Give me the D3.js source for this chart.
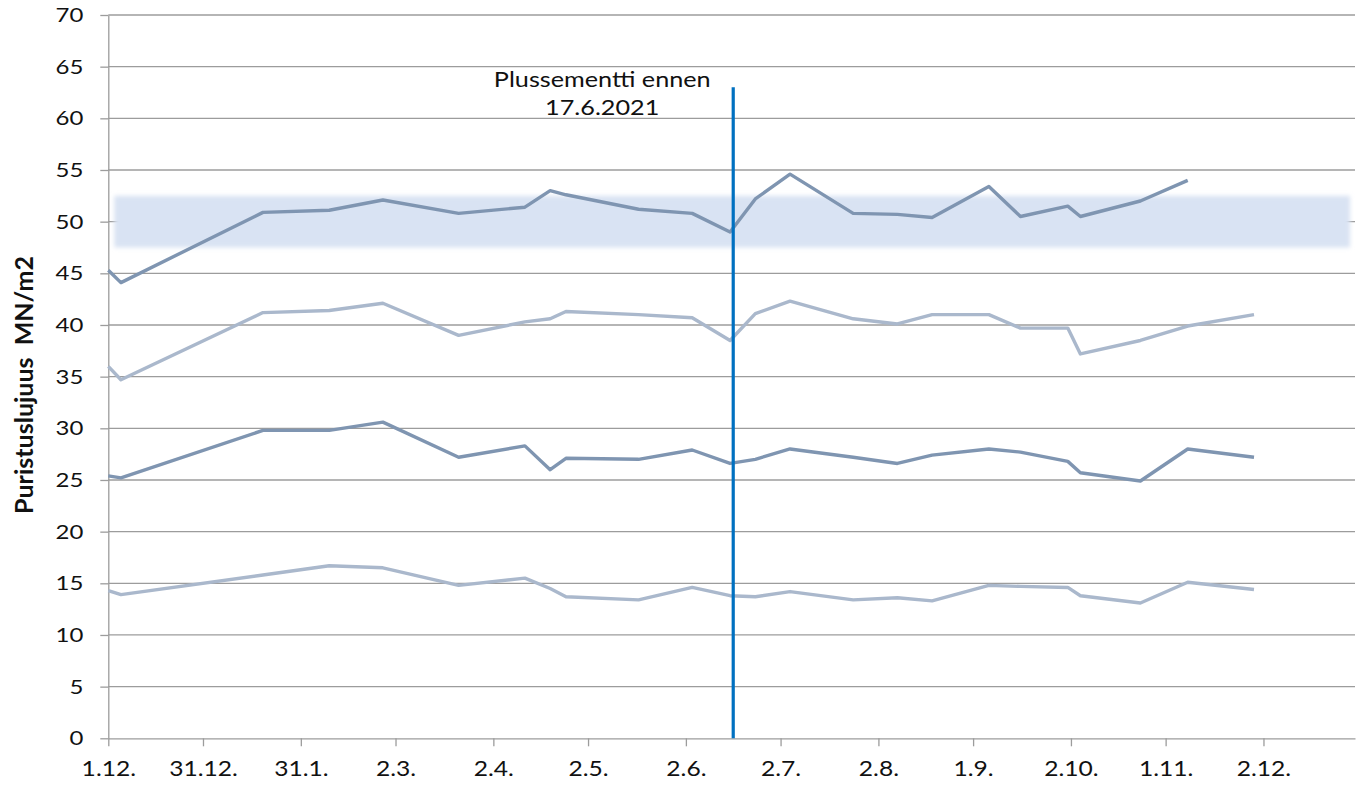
<!DOCTYPE html>
<html>
<head>
<meta charset="utf-8">
<script src="https://cdn.jsdelivr.net/npm/d3@7/dist/d3.min.js"></script>
<style>
  body { margin: 0; background: #fff; }
  svg text { font-family: Lato, "Open Sans", sans-serif; fill: #111; }
</style>
</head>
<body>
<div id="chart"></div>
<script>
// sample dates (one row per test batch)
var sampleDates = ["2020-12-01", "2020-12-05", "2021-01-19", "2021-02-09", "2021-02-26", "2021-03-22",
  "2021-04-12", "2021-04-20", "2021-04-25", "2021-05-18", "2021-06-04", "2021-06-16", "2021-06-24",
  "2021-07-05", "2021-07-25", "2021-08-08", "2021-08-19", "2021-09-06", "2021-09-16", "2021-10-01",
  "2021-10-05", "2021-10-24", "2021-11-08", "2021-11-29"];

var strengthA = [45.3, 44.1, 50.9, 51.1, 52.1, 50.8, 51.4, 53.0, 52.6, 51.2, 50.8, 49.0, 52.2,
  54.6, 50.8, 50.7, 50.4, 53.4, 50.5, 51.5, 50.5, 52.0, 54.0, null];
var strengthB = [36.0, 34.7, 41.2, 41.4, 42.1, 39.0, 40.3, 40.6, 41.3, 41.0, 40.7, 38.5, 41.1,
  42.3, 40.6, 40.1, 41.0, 41.0, 39.7, 39.7, 37.2, 38.5, 39.9, 41.0];
var strengthC = [25.4, 25.2, 29.8, 29.8, 30.6, 27.2, 28.3, 26.0, 27.1, 27.0, 27.9, 26.6, 27.0,
  28.0, 27.2, 26.6, 27.4, 28.0, 27.7, 26.8, 25.7, 24.9, 28.0, 27.2];
var strengthD = [14.3, 13.9, 15.8, 16.7, 16.5, 14.8, 15.5, 14.5, 13.7, 13.4, 14.6, 13.8, 13.7,
  14.2, 13.4, 13.6, 13.3, 14.8, 14.7, 14.6, 13.8, 13.1, 15.1, 14.4];

var xTickDates = ["2020-12-01", "2020-12-31", "2021-01-31", "2021-03-02", "2021-04-02", "2021-05-02",
  "2021-06-02", "2021-07-02", "2021-08-02", "2021-09-01", "2021-10-02", "2021-11-01", "2021-12-02"];
var yTickValues = [0, 5, 10, 15, 20, 25, 30, 35, 40, 45, 50, 55, 60, 65, 70];
var xDomain = ["2020-12-01", "2021-12-31"];

var targetBand = [47.5, 52.5];
var changeDate = "2021-06-17";
var changeTop = 63;
var changeLabel = ["Plussementti ennen", "17.6.2021"];
var yTitle = "Puristuslujuus  MN/m2";

(function() {
  var W = 1357, H = 787;
  var left = 108.3, right = 1355, top = 15, bottom = 738.3;
  var dark = "#7f95b1", light = "#aab8cc", grid = "#9c9c9c";
  var sx = 1.2; // the original picture is a little wider than its fonts

  var parse = d3.utcParse("%Y-%m-%d");
  var fmt = d3.utcFormat("%-d.%-m.");

  var x = d3.scaleUtc().domain(xDomain.map(parse)).range([left, right]);
  var y = d3.scaleLinear().domain([0, 70]).range([bottom, top]);

  var svg = d3.select("#chart").append("svg")
    .attr("width", W).attr("height", H);

  var defs = svg.append("defs");
  defs.append("filter").attr("id", "soft")
    .attr("x", "-5%").attr("y", "-20%").attr("width", "110%").attr("height", "140%")
    .append("feGaussianBlur").attr("stdDeviation", 2.2);

  // gridlines
  svg.append("g").selectAll("line").data(yTickValues.slice(1)).enter().append("line")
    .attr("x1", left).attr("x2", right)
    .attr("y1", function(d) { return y(d); }).attr("y2", function(d) { return y(d); })
    .attr("stroke", grid).attr("stroke-width", 1.3);

  // target band
  svg.append("rect")
    .attr("x", x(parse(xDomain[0])) + 6)
    .attr("width", x(parse(xDomain[1])) - x(parse(xDomain[0])) - 11)
    .attr("y", y(targetBand[1]))
    .attr("height", y(targetBand[0]) - y(targetBand[1]))
    .attr("fill", "#d9e3f3")
    .attr("filter", "url(#soft)");

  // y axis
  var yAxis = svg.append("g").attr("transform", "translate(" + left + ",0)")
    .call(d3.axisLeft(y).tickValues(yTickValues).tickSize(8).tickSizeOuter(0));
  yAxis.selectAll("path, line").attr("stroke", grid).attr("stroke-width", 1.3);
  yAxis.selectAll("text").attr("font-size", 20).style("fill", "#111")
    .attr("x", -25 / sx).attr("transform", "scale(" + sx + ",1)");

  // x axis
  var xAxis = svg.append("g").attr("transform", "translate(0," + bottom + ")")
    .call(d3.axisBottom(x).tickValues(xTickDates.map(parse)).tickFormat(fmt)
      .tickSize(8).tickSizeOuter(0).tickPadding(15));
  xAxis.selectAll("path, line").attr("stroke", grid).attr("stroke-width", 1.3);
  xAxis.selectAll("text").attr("font-size", 20.5).style("fill", "#111")
    .attr("transform", "scale(" + sx + ",1)");

  // series
  var rows = sampleDates.map(function(d, i) {
    return { date: parse(d), a: strengthA[i], b: strengthB[i], c: strengthC[i], d: strengthD[i] };
  });
  var series = [["d", light], ["c", dark], ["b", light], ["a", dark]];
  series.forEach(function(s) {
    var line = d3.line()
      .defined(function(r) { return r[s[0]] != null; })
      .x(function(r) { return x(r.date); })
      .y(function(r) { return y(r[s[0]]); });
    svg.append("path").datum(rows)
      .attr("d", line)
      .attr("fill", "none")
      .attr("stroke", s[1])
      .attr("stroke-width", 3.4)
      .attr("stroke-linejoin", "round");
  });

  // cement change marker
  var cx = x(parse(changeDate));
  svg.append("line")
    .attr("x1", cx).attr("x2", cx)
    .attr("y1", y(changeTop)).attr("y2", y(0))
    .attr("stroke", "#0070c0").attr("stroke-width", 3.2);

  svg.append("text")
    .attr("transform", "translate(" + (cx - 131) + ",87) scale(" + (sx + 0.03) + ",1)")
    .attr("text-anchor", "middle")
    .attr("font-size", 20.5)
    .selectAll("tspan").data(changeLabel).enter().append("tspan")
    .attr("x", 0)
    .attr("dy", function(d, i) { return i ? 28 : 0; })
    .text(function(d) { return d; });

  // y title
  svg.append("text")
    .attr("transform", "translate(33,385) rotate(-90)")
    .attr("text-anchor", "middle")
    .attr("font-size", 25)
    .attr("font-weight", "bold")
    .style("white-space", "pre")
    .text(yTitle);
}).call(this);
</script>
</body>
</html>
